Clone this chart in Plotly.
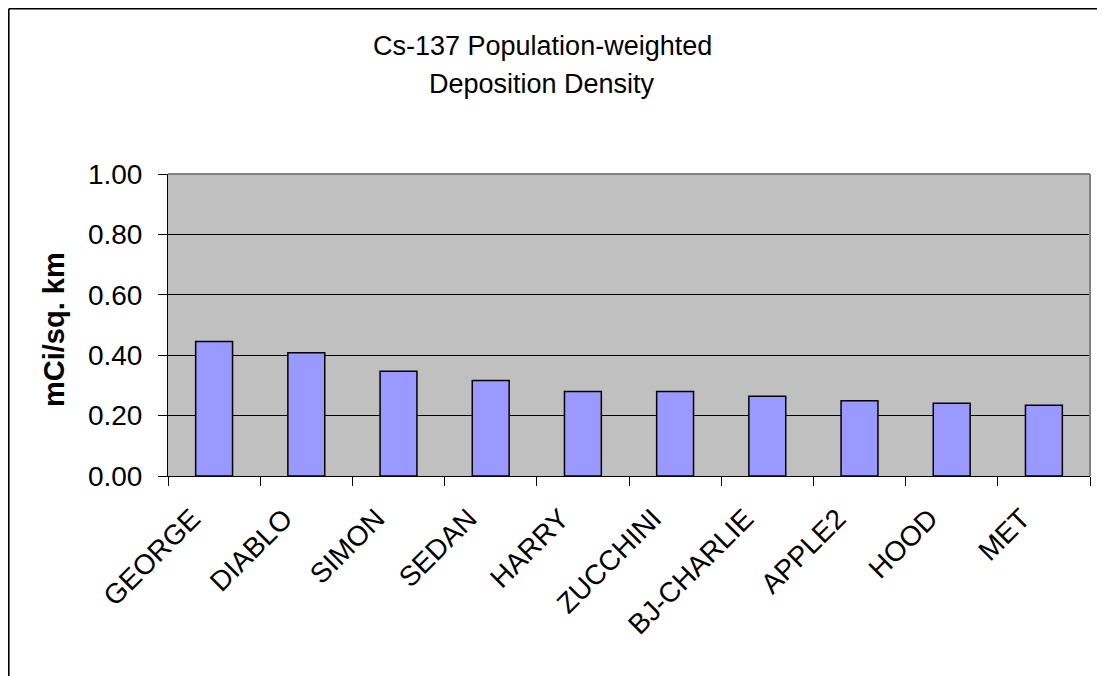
import plotly.graph_objects as go

categories = ["GEORGE", "DIABLO", "SIMON", "SEDAN", "HARRY", "ZUCCHINI",
              "BJ-CHARLIE", "APPLE2", "HOOD", "MET"]
values = [0.445, 0.408, 0.347, 0.316, 0.280, 0.280, 0.264, 0.249, 0.241, 0.234]
y_ticks = [0.0, 0.2, 0.4, 0.6, 0.8, 1.0]
y_tick_labels = ["0.00", "0.20", "0.40", "0.60", "0.80", "1.00"]

# figure is placed at (8, 8) in the page by the default body margin
W, H = 1097, 668
L, T = 160, 166
PW, PH = 922, 302
R = W - L - PW
B = H - T - PH

font = "Liberation Sans, Arial, sans-serif"

fig = go.Figure(go.Bar(
    x=categories, y=values,
    marker=dict(color="#9999FF", line=dict(color="black", width=1.5)),
))

fig.update_layout(
    width=W, height=H,
    margin=dict(l=L, r=R, t=T, b=B, pad=0),
    paper_bgcolor="white",
    plot_bgcolor="#C0C0C0",
    bargap=0.6,
    showlegend=False,
    font=dict(family=font, color="black"),
)
fig.update_xaxes(
    tickangle=-45, tickfont=dict(size=28, family=font),
    ticks="outside", ticklen=9, tickcolor="black", tickson="boundaries",
    ticklabelstandoff=14, ticklabelshift=-22,
    showline=True, linecolor="black", linewidth=1,
    showgrid=False, zeroline=False,
)
fig.update_yaxes(
    range=[0, 1], tickvals=y_ticks, ticktext=y_tick_labels,
    tickfont=dict(size=28, family=font),
    ticks="outside", ticklen=9, tickcolor="black",
    ticklabelstandoff=10,
    showline=True, linecolor="black", linewidth=1,
    showgrid=True, gridcolor="black", gridwidth=1, zeroline=False,
)


def px(x):
    return (x - L) / PW


def py(y):
    return (H - B - y) / PH


# plot area grey border (top/right)
fig.add_shape(type="line", xref="paper", yref="paper", x0=0, x1=1, y0=1, y1=1,
              line=dict(color="#808080", width=2))
fig.add_shape(type="line", xref="paper", yref="paper", x0=1, x1=1, y0=0, y1=1,
              line=dict(color="#808080", width=2))
# outer chart frame (left and top visible)
fig.add_shape(type="line", xref="paper", yref="paper",
              x0=px(0.8), x1=px(0.8), y0=py(H + 5), y1=py(0.8),
              line=dict(color="black", width=1.6))
fig.add_shape(type="line", xref="paper", yref="paper",
              x0=px(0.8), x1=px(W + 5), y0=py(0.8), y1=py(0.8),
              line=dict(color="black", width=1.6))

title_lines = ["Cs-137 Population-weighted", "Deposition Density"]
for txt, yy in zip(title_lines, [38, 76]):
    fig.add_annotation(xref="paper", yref="paper", x=px(534), y=py(yy),
                       text=txt, showarrow=False,
                       font=dict(size=27, family=font),
                       xanchor="center", yanchor="middle")

fig.add_annotation(xref="paper", yref="paper", x=px(46), y=py(322),
                   text="<b>mCi/sq. km</b>", showarrow=False, textangle=-90,
                   font=dict(size=29, family=font),
                   xanchor="center", yanchor="middle")

fig.write_html("out.html")
